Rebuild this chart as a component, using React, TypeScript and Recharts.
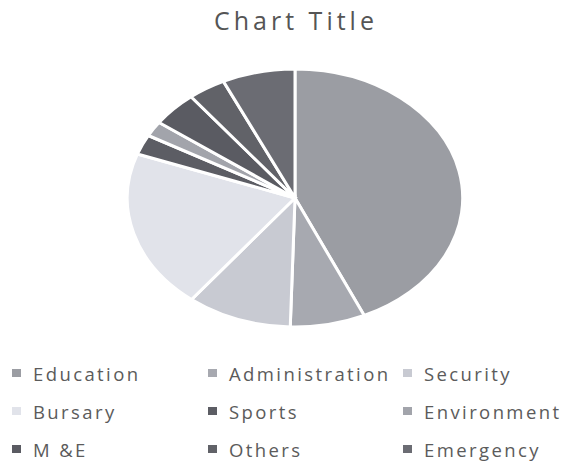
import { PieChart, Pie, Cell, Legend } from "recharts";

const categories = ["Education", "Administration", "Security", "Bursary", "Sports", "Environment", "M &E", "Others", "Emergency"];
const values = [43.1, 7.2, 10.1, 19.9, 2.5, 1.9, 4.4, 3.6, 7.0];
const colors = ["#9b9da3", "#a7a9b0", "#c8cad2", "#e1e3ea", "#5c5d64", "#a2a4ab", "#5a5b62", "#616268", "#6b6c73"];

const data = categories.map((name, i) => ({ name, value: values[i] }));

const RAD = Math.PI / 180;
const SQUASH_X = 1.3;

// elliptical sector: library gives the angles, we stretch x
function EllipseSector(props: any) {
  const { cx, cy, outerRadius, startAngle, endAngle, fill, stroke, strokeWidth } = props;
  const rx = outerRadius * SQUASH_X;
  const ry = outerRadius;
  const p = (a: number) => [cx + rx * Math.cos(-a * RAD), cy + ry * Math.sin(-a * RAD)];
  const [x1, y1] = p(startAngle);
  const [x2, y2] = p(endAngle);
  const large = Math.abs(endAngle - startAngle) > 180 ? 1 : 0;
  const sweep = endAngle < startAngle ? 1 : 0;
  const d = `M${cx},${cy} L${x1},${y1} A${rx},${ry} 0 ${large} ${sweep} ${x2},${y2} Z`;
  return <path d={d} fill={fill} stroke={stroke} strokeWidth={strokeWidth} strokeLinejoin="miter" />;
}

const colX = [12, 208, 403];
const rowY = [373, 411, 449];

function LegendBox(props: any) {
  const payload = [...(props.payload || [])].sort(
    (a: any, b: any) => categories.indexOf(a.value) - categories.indexOf(b.value)
  );
  return (
    <div style={{ position: "relative", width: 563, height: 10 }}>
      {payload.map((entry: any, i: number) => {
        const col = i % 3;
        const row = Math.floor(i / 3);
        return (
          <div
            key={entry.value}
            style={{
              position: "absolute",
              left: colX[col],
              top: rowY[row] - 13,
              height: 26,
              display: "flex",
              alignItems: "center",
              whiteSpace: "nowrap",
            }}
          >
            <span style={{ display: "inline-block", width: 9, height: 8, background: entry.color, marginRight: 12 }} />
            <span style={{ fontFamily: "'Open Sans', sans-serif", fontSize: 18.5, letterSpacing: 2.4, color: "#5b5b5b" }}>
              {entry.value}
            </span>
          </div>
        );
      })}
    </div>
  );
}

export default function App() {
  return (
    <div style={{ position: "absolute", left: 0, top: 0, width: 563, height: 461, background: "#fff" }}>
      <div
        style={{
          position: "absolute",
          left: 0,
          width: 584,
          top: 3,
          paddingLeft: 4,
          textAlign: "center",
          fontFamily: "'Open Sans', sans-serif",
          fontSize: 25,
          letterSpacing: 4,
          color: "#555",
        }}
      >
        Chart Title
      </div>
      <PieChart
        width={563}
        height={461}
        margin={{ top: 0, right: 0, bottom: 0, left: 0 }}
        style={{ position: "absolute", left: 0, top: 0 }}
      >
        <Pie
          data={data}
          dataKey="value"
          nameKey="name"
          cx={295}
          cy={198}
          outerRadius={129}
          startAngle={90}
          endAngle={-270}
          stroke="#fff"
          strokeWidth={3}
          shape={EllipseSector}
          isAnimationActive={false}
        >
          {data.map((d, i) => (
            <Cell key={d.name} fill={colors[i]} />
          ))}
        </Pie>
        <Legend
          content={LegendBox}
          wrapperStyle={{ position: "absolute", left: 0, top: 0, width: 563, height: 10 }}
        />
      </PieChart>
    </div>
  );
}
